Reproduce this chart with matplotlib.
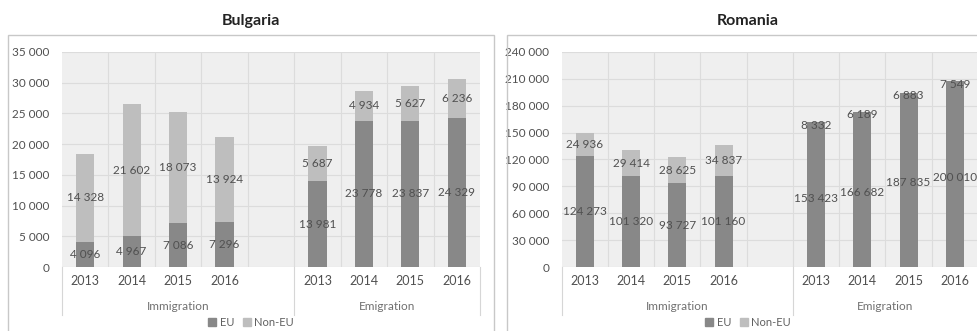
import matplotlib.pyplot as plt
from matplotlib.patches import Rectangle, Patch
from matplotlib.ticker import FuncFormatter, FixedLocator

plt.rcParams['font.family'] = ['Lato', 'DejaVu Sans']

years = ['2013', '2014', '2015', '2016']
groups = ['Immigration', 'Emigration']

# Bulgaria
bg_imm_eu = [4096, 4967, 7086, 7296]
bg_imm_noneu = [14328, 21602, 18073, 13924]
bg_emi_eu = [13981, 23778, 23837, 24329]
bg_emi_noneu = [5687, 4934, 5627, 6236]

# Romania
ro_imm_eu = [124273, 101320, 93727, 101160]
ro_imm_noneu = [24936, 29414, 28625, 34837]
ro_emi_eu = [153423, 166682, 187835, 200010]
ro_emi_noneu = [8332, 6189, 6883, 7549]

EU_COL = '#888888'
NONEU_COL = '#bebebe'
TXT = '#505050'

fig = plt.figure(figsize=(9.78, 3.31), dpi=100)
W, H = 978, 331


def fx(px):
    return px / W


def fy(py):
    return 1 - py / H


# panel frames
for x0, x1 in [(8, 494), (507, 990)]:
    fig.patches.append(Rectangle((fx(x0), fy(340)), fx(x1 - x0), (340 - 35) / H,
                                 transform=fig.transFigure, fill=False,
                                 edgecolor='#c8c8c8', lw=1))


def draw_panel(ax, imm_eu, imm_non, emi_eu, emi_non, ymax, ystep, emi_non_col):
    xs_imm = [0, 1, 2, 3]
    xs_emi = [5, 6, 7, 8]
    w = 0.39
    ax.set_facecolor('#efefef')
    ax.bar(xs_imm, imm_eu, w, color=EU_COL, zorder=3)
    ax.bar(xs_imm, imm_non, w, bottom=imm_eu, color=NONEU_COL, zorder=3)
    ax.bar(xs_emi, emi_eu, w, color=EU_COL, zorder=3)
    ax.bar(xs_emi, emi_non, w, bottom=emi_eu, color=emi_non_col, zorder=3)

    fmt = lambda v: f'{v:,}'.replace(',', ' ')
    for xs, eu, non in [(xs_imm, imm_eu, imm_non), (xs_emi, emi_eu, emi_non)]:
        for x, a, b in zip(xs, eu, non):
            ax.text(x, a / 2, fmt(a), ha='center', va='center', fontsize=8.5,
                    color=TXT, zorder=4)
            ax.text(x, a + b / 2, fmt(b), ha='center', va='center', fontsize=8.5,
                    color=TXT, zorder=4)

    ax.set_xlim(-0.5, 8.5)
    ax.set_ylim(0, ymax)
    ax.set_yticks(range(0, ymax + 1, ystep))
    ax.yaxis.set_major_formatter(FuncFormatter(lambda v, p: fmt(int(v))))
    ax.set_xticks(xs_imm + xs_emi)
    ax.set_xticklabels(years + years)
    ax.xaxis.set_minor_locator(FixedLocator([k + 0.5 for k in range(8)]))
    ax.tick_params(axis='both', which='both', length=0, labelsize=8.5,
                   labelcolor=TXT)
    ax.tick_params(axis='x', labelsize=9)
    ax.tick_params(axis='y', pad=9)
    ax.tick_params(axis='x', pad=6)
    ax.grid(axis='y', which='major', color='#dcdcdc', lw=0.8, zorder=1)
    ax.grid(axis='x', which='minor', color='#dcdcdc', lw=0.8, zorder=1)
    for s in ax.spines.values():
        s.set_visible(False)

    tr = ax.get_xaxis_transform()
    for xb in [-0.5, 4.5, 8.5]:
        ax.plot([xb, xb], [0, -0.225], transform=tr, color='#d6d6d6', lw=0.8,
                clip_on=False)
    ax.text(2.0, -0.185, groups[0], transform=tr, ha='center', va='center',
            fontsize=8.5, color='#707070')
    ax.text(6.5, -0.185, groups[1], transform=tr, ha='center', va='center',
            fontsize=8.5, color='#707070')


ax1 = fig.add_axes([fx(62), fy(267), fx(480 - 62), (267 - 52) / H])
draw_panel(ax1, bg_imm_eu, bg_imm_noneu, bg_emi_eu, bg_emi_noneu, 35000, 5000, NONEU_COL)

ax2 = fig.add_axes([fx(561.7), fy(267), fx(978 - 561.7), (267 - 52) / H])
draw_panel(ax2, ro_imm_eu, ro_imm_noneu, ro_emi_eu, ro_emi_noneu, 240000, 30000, EU_COL)

fig.text(fx(251), fy(21), 'Bulgaria', ha='center', va='center', fontsize=11.5,
         fontweight='bold', color='#222222')
fig.text(fx(748), fy(21), 'Romania', ha='center', va='center', fontsize=11.5,
         fontweight='bold', color='#222222')

handles = [Patch(color=EU_COL, label='EU'), Patch(color=NONEU_COL, label='Non-EU')]
for cx in [251, 748]:
    fig.legend(handles=handles, loc='center', bbox_to_anchor=(fx(cx), fy(322)),
               ncol=2, frameon=False, fontsize=8, handlelength=0.7,
               handleheight=0.7, handletextpad=0.3, columnspacing=0.8,
               labelcolor='#606060')

fig.savefig('out.png', dpi=100)
